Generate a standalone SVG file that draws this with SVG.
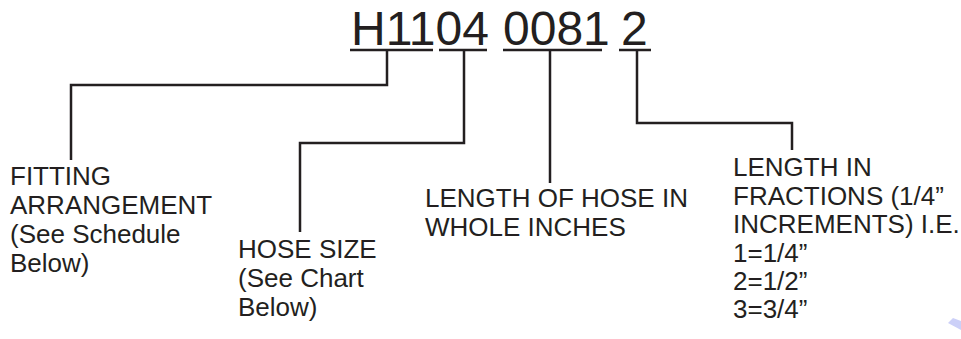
<svg xmlns="http://www.w3.org/2000/svg" width="961" height="339" viewBox="0 0 961 339">
<style>
.big{font-family:"Liberation Sans",Arial,sans-serif;font-size:48px;fill:#231f20}
.lbl{font-family:"Liberation Sans",Arial,sans-serif;font-size:26px;fill:#231f20}
.ln{fill:none;stroke:#231f20;stroke-width:2.5;stroke-linecap:butt;stroke-linejoin:miter}
</style>
<rect width="961" height="339" fill="#ffffff"/>
<g id="code">
<text class="big" x="351" y="45">H1104</text>
<text class="big" x="503" y="45">0081</text>
<text class="big" x="621" y="45">2</text>
</g>
<g id="connectors">
<path class="ln" d="M350,50 H433 M439,50 H487 M503,50 H602 M619,50 H651"/>
<path class="ln" d="M387,50 V85 H71 V160"/>
<path class="ln" d="M464,50 V143 H300 V232"/>
<path class="ln" d="M550,50 V183"/>
<path class="ln" d="M637,50 V123 H792 V150"/>
</g>
<g id="fitting">
<text class="lbl" x="10" y="185">FITTING</text>
<text class="lbl" x="10" y="214">ARRANGEMENT</text>
<text class="lbl" x="10" y="243">(See Schedule</text>
<text class="lbl" x="10" y="272">Below)</text>
</g>
<g id="hose-size">
<text class="lbl" x="238" y="258">HOSE SIZE</text>
<text class="lbl" x="238" y="287">(See Chart</text>
<text class="lbl" x="238" y="316">Below)</text>
</g>
<g id="length-whole">
<text class="lbl" x="425" y="207">LENGTH OF HOSE IN</text>
<text class="lbl" x="425" y="236">WHOLE INCHES</text>
</g>
<g id="length-fraction">
<text class="lbl" x="733" y="176">LENGTH IN</text>
<text class="lbl" x="733" y="205">FRACTIONS (1/4”</text>
<text class="lbl" x="733" y="233">INCREMENTS) I.E.</text>
<text class="lbl" x="733" y="262">1=1/4”</text>
<text class="lbl" x="733" y="290">2=1/2”</text>
<text class="lbl" x="733" y="318">3=3/4”</text>
</g>
<polygon points="948,323 953,318 961,321 961,330" fill="#ccd0f8"/>
</svg>
